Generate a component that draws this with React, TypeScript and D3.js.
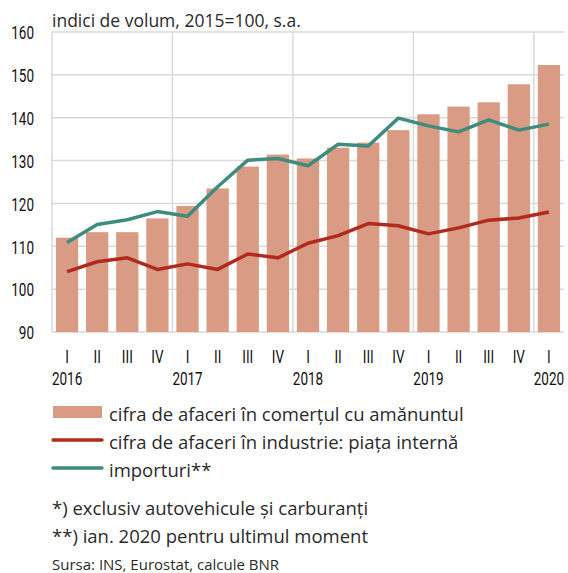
import React from "react";
import * as d3 from "d3";

const quarters = ["I","II","III","IV","I","II","III","IV","I","II","III","IV","I","II","III","IV","I"];
const years = ["2016","2017","2018","2019","2020"];
const retail = [112,113.3,113.3,116.5,119.4,123.5,128.6,131.4,130.5,133,134.2,137.1,140.8,142.6,143.6,147.8,152.3];
const industry = [104.1,106.4,107.3,104.6,105.9,104.6,108.2,107.3,110.7,112.5,115.3,114.8,112.9,114.3,116.1,116.6,118];
const imports = [110.9,115.1,116.2,118.1,117,123.9,130.1,130.5,128.8,133.8,133.4,139.9,138.1,136.7,139.5,137.1,138.5];
const yTicks = [90,100,110,120,130,140,150,160];
const title = "indici de volum, 2015=100, s.a.";
const legendItems = [
  { label: "cifra de afaceri în comerțul cu amănuntul", type: "bar" },
  { label: "cifra de afaceri în industrie: piața internă", type: "red" },
  { label: "importuri**", type: "green" },
];
const notes = ["*) exclusiv autovehicule și carburanți", "**) ian. 2020 pentru ultimul moment"];
const source = "Sursa: INS, Eurostat, calcule BNR";

const BAR = "#d99b84";
const RED = "#b02a1e";
const GREEN = "#3f8c7e";
const GRID = "#d9d9d9";
const COND = "Roboto, 'Noto Sans', sans-serif";
const TXT = "'Open Sans', 'Noto Sans', sans-serif";
const SQ = 0.75;

function CondText({ x, y, anchor, children }: { x: number; y: number; anchor: string; children: React.ReactNode }) {
  return (
    <g transform={`translate(${x},${y}) scale(${SQ},1)`}>
      <text x={0} y={0} textAnchor={anchor} dominantBaseline="central" fontFamily={COND} fontSize={18} fill="#111">{children}</text>
    </g>
  );
}

export default function App() {
  const left = 52, right = 564, top = 32, bottom = 332;
  const idx = quarters.map((_, i) => i);
  const x = d3.scaleBand<number>().domain(idx).range([left, right]).paddingInner(0.26).paddingOuter(0.13);
  const y = d3.scaleLinear().domain([90, 160]).range([bottom, top]);
  const step = x.step();
  const cx = (i: number) => (x(i) as number) + x.bandwidth() / 2;
  const line = d3.line<number>().x((_, i) => cx(i)).y((d) => y(d));
  const yearLines = [0, 4, 8, 12, 16].map((q) => left + q * step);

  return (
    <svg width={568} height={573} style={{ position: "absolute", left: 0, top: 0, background: "#fff" }}>
      <text x={left} y={20} fontFamily={TXT} fontSize={17.5} fill="#2a2a2a" dominantBaseline="central">{title}</text>
      {yTicks.map((t) => (
        <line key={"g" + t} x1={left} x2={right} y1={y(t)} y2={y(t)} stroke={GRID} strokeWidth={1.5} />
      ))}
      {yearLines.map((xv, i) => (
        <line key={"v" + i} x1={xv} x2={xv} y1={top} y2={bottom} stroke={GRID} strokeWidth={1.5} />
      ))}
      {yTicks.map((t) => (
        <CondText key={"yt" + t} x={34} y={y(t) + 1} anchor="end">{t}</CondText>
      ))}
      {retail.map((v, i) => (
        <rect key={"b" + i} x={x(i)} y={y(v)} width={x.bandwidth()} height={y(90) - y(v)} fill={BAR} />
      ))}
      <path d={line(industry) || ""} fill="none" stroke={RED} strokeWidth={3.5} strokeLinejoin="round" />
      <path d={line(imports) || ""} fill="none" stroke={GREEN} strokeWidth={3.5} strokeLinejoin="round" />
      {quarters.map((q, i) => (
        <CondText key={"q" + i} x={cx(i)} y={357} anchor="middle">{q}</CondText>
      ))}
      {years.map((yr, k) => (
        <CondText key={"yr" + k} x={cx(k * 4)} y={379} anchor="middle">{yr}</CondText>
      ))}
      {legendItems.map((it, k) => {
        const cy = 412 + k * 28;
        return (
          <g key={"l" + k}>
            {it.type === "bar" ? (
              <rect x={53} y={cy - 6} width={49} height={12} fill={BAR} />
            ) : (
              <line x1={53} x2={102} y1={cy} y2={cy} stroke={it.type === "red" ? RED : GREEN} strokeWidth={3.5} strokeLinecap="round" />
            )}
            <text x={109} y={cy + 1} dominantBaseline="central" fontFamily={TXT} fontSize={18.5} fill="#2a2a2a">{it.label}</text>
          </g>
        );
      })}
      {notes.map((n, k) => (
        <text key={"n" + k} x={52} y={507 + k * 28} dominantBaseline="central" fontFamily={TXT} fontSize={18.5} fill="#2a2a2a">{n}</text>
      ))}
      <text x={52} y={564} dominantBaseline="central" fontFamily={TXT} fontSize={15} fill="#2a2a2a">{source}</text>
    </svg>
  );
}
